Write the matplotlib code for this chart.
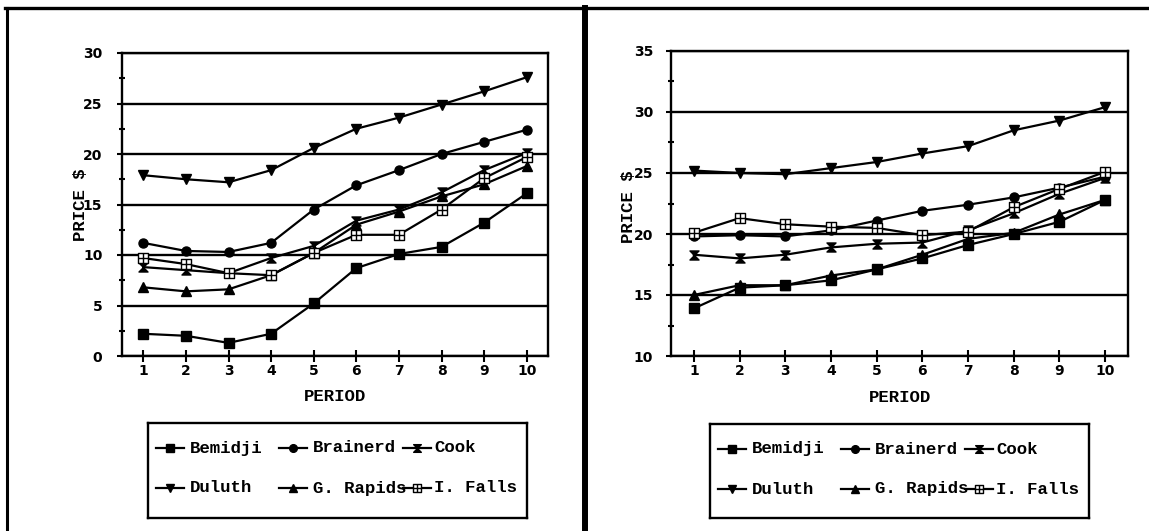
import matplotlib
matplotlib.use("Agg")
import matplotlib.pyplot as plt
from matplotlib.lines import Line2D
from matplotlib.path import Path
from matplotlib.ticker import MultipleLocator

periods = list(range(1, 11))
cities = ["Bemidji", "Brainerd", "Cook", "Duluth", "G. Rapids", "I. Falls"]

# prices per period, left chart
left_bemidji = [2.2, 2.0, 1.3, 2.2, 5.2, 8.7, 10.1, 10.8, 13.2, 16.1]
left_brainerd = [11.2, 10.4, 10.3, 11.2, 14.5, 16.9, 18.4, 20.0, 21.2, 22.4]
left_cook = [8.8, 8.5, 8.2, 9.7, 10.9, 13.4, 14.5, 16.2, 18.4, 20.1]
left_duluth = [17.9, 17.5, 17.2, 18.4, 20.6, 22.5, 23.6, 24.9, 26.2, 27.6]
left_grapids = [6.8, 6.4, 6.6, 8.0, 10.2, 13.0, 14.3, 15.8, 17.0, 18.8]
left_ifalls = [9.7, 9.1, 8.2, 8.0, 10.2, 12.0, 12.0, 14.5, 17.6, 19.7]

# prices per period, right chart
right_bemidji = [13.9, 15.6, 15.8, 16.2, 17.1, 18.0, 19.1, 20.0, 21.0, 22.8]
right_brainerd = [19.8, 19.9, 19.8, 20.3, 21.1, 21.9, 22.4, 23.0, 23.8, 24.7]
right_cook = [18.3, 18.0, 18.3, 18.9, 19.2, 19.3, 20.3, 21.7, 23.3, 24.6]
right_duluth = [25.2, 25.0, 24.9, 25.4, 25.9, 26.6, 27.2, 28.5, 29.3, 30.4]
right_grapids = [15.0, 15.8, 15.8, 16.6, 17.1, 18.3, 19.6, 20.1, 21.6, 22.8]
right_ifalls = [20.1, 21.3, 20.8, 20.6, 20.5, 19.9, 20.2, 22.2, 23.7, 25.1]

left_series = [left_bemidji, left_brainerd, left_cook, left_duluth, left_grapids, left_ifalls]
right_series = [right_bemidji, right_brainerd, right_cook, right_duluth, right_grapids, right_ifalls]

# hourglass and boxed-cross markers
hourglass = Path([(-1, 1), (1, 1), (-1, -1), (1, -1), (-1, 1)],
                 [Path.MOVETO, Path.LINETO, Path.LINETO, Path.LINETO, Path.CLOSEPOLY])
boxcross = Path([(-1, -1), (1, -1), (1, 1), (-1, 1), (-1, -1),
                 (0, -1), (0, 1), (-1, 0), (1, 0)],
                [Path.MOVETO, Path.LINETO, Path.LINETO, Path.LINETO, Path.CLOSEPOLY,
                 Path.MOVETO, Path.LINETO, Path.MOVETO, Path.LINETO])

styles = [
    dict(marker="s", ms=6.5, mfc="black"),
    dict(marker="o", ms=6.5, mfc="black"),
    dict(marker=hourglass, ms=6.5, mfc="black"),
    dict(marker="v", ms=7.5, mfc="black"),
    dict(marker="^", ms=7.5, mfc="black"),
    dict(marker=boxcross, ms=7, mfc="white"),
]

MONO = dict(family="Liberation Mono", weight="bold", size=12.5)
TICKF = dict(family="DejaVu Sans", weight="bold", size=10)

W, H = 1149, 531


def box(x0, y0, x1, y1):
    return [x0 / W, 1 - y1 / H, (x1 - x0) / W, (y1 - y0) / H]


fig = plt.figure(figsize=(W / 100, H / 100), dpi=100)


def draw_panel(ax, series, ylim, ypad, label_x, label_y):
    for vals, st in zip(series, styles):
        ax.plot(periods, vals, color="black", lw=1.6, mec="black", mew=1.0,
                zorder=3, clip_on=False, **st)
    ax.set_xlim(0.5, 10.5)
    ax.set_ylim(*ylim)
    ax.set_xticks(periods)
    ax.yaxis.set_major_locator(MultipleLocator(5))
    ax.yaxis.set_minor_locator(MultipleLocator(2.5))
    ax.yaxis.grid(True, which="major", color="black", lw=1.7)
    for sp in ax.spines.values():
        sp.set_linewidth(1.7)
    ax.tick_params(axis="x", direction="inout", length=8, width=1.5, pad=2)
    ax.tick_params(axis="y", which="major", direction="out", length=3.6, width=1.5, pad=ypad)
    ax.tick_params(axis="y", which="minor", direction="inout", length=4, width=1.5)
    for lab in ax.get_xticklabels() + ax.get_yticklabels():
        lab.set_fontproperties(TICKF)
    ax.set_xlabel("PERIOD", **MONO)
    ax.xaxis.set_label_coords(0.5, -0.135)
    ax.xaxis.label.set_va("center")
    ax.set_ylabel("PRICE $", **MONO)
    ax.yaxis.set_label_coords(label_x, label_y)
    ax.yaxis.label.set_va("center")


def draw_legend(lax, width, height):
    lax.set_xlim(0, width)
    lax.set_ylim(height, 0)
    lax.set_xticks([])
    lax.set_yticks([])
    for sp in lax.spines.values():
        sp.set_linewidth(1.7)
    handle_x = [(8, 36), (131, 159), (255, 283)]
    text_x = [42, 165, 286]
    row_y = [25, 65]
    for i, (name, st) in enumerate(zip(cities, styles)):
        r, c = divmod(i, 3)
        hx = handle_x[c]
        lax.add_line(Line2D(hx, [row_y[r]] * 2, color="black", lw=1.6))
        s = dict(st)
        s["ms"] = s["ms"] * 0.85
        lax.add_line(Line2D([(hx[0] + hx[1]) / 2], [row_y[r]], color="black",
                            mec="black", mew=1.0, **s))
        lax.text(text_x[c], row_y[r], name, va="center", ha="left", **MONO)


axL = fig.add_axes(box(122, 53, 548, 356))
draw_panel(axL, left_series, (0, 30), 10.5, -0.098, 0.5)

axR = fig.add_axes(box(671, 51, 1128, 356))
draw_panel(axR, right_series, (10, 35), 9.2, -0.092, 0.49)

legL = fig.add_axes(box(148, 423, 527, 518))
draw_legend(legL, 379, 95)
legR = fig.add_axes(box(710, 424, 1089, 518))
draw_legend(legR, 379, 94)

# outer frame lines around the two charts
fig.add_artist(Line2D([5 / W, 1], [1 - 7.5 / H] * 2, transform=fig.transFigure,
                      color="black", lw=2.4))
fig.add_artist(Line2D([6.5 / W] * 2, [0, 1 - 7.5 / H], transform=fig.transFigure,
                      color="black", lw=2.2))
fig.add_artist(Line2D([585 / W] * 2, [0, 1 - 7.5 / H], transform=fig.transFigure,
                      color="black", lw=4.3))

fig.savefig("out.png", dpi=100, facecolor="white")
